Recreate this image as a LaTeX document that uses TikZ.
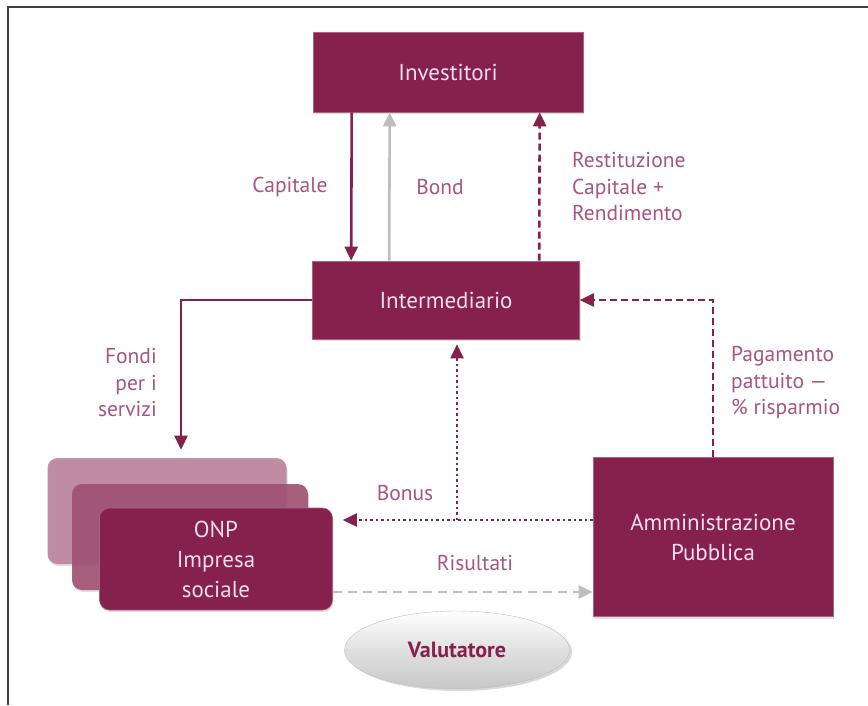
\documentclass[tikz,border=0pt]{standalone}
\usepackage{fontspec}
\setmainfont{PT Sans}
\usetikzlibrary{arrows.meta,shapes.geometric,shadows}
\definecolor{vino}{RGB}{134,32,76}
\definecolor{malva}{RGB}{166,84,128}
\definecolor{rosa}{RGB}{244,222,234}
\definecolor{grigio}{RGB}{190,190,190}
\begin{document}
\begin{tikzpicture}[x=1pt,y=-1pt,
	box/.style={draw=vino!70!white,line width=0.6pt,fill=vino,text=rosa,font=\fontsize{23}{30}\selectfont,align=center,inner sep=0pt,drop shadow={opacity=0.25,shadow xshift=1pt,shadow yshift=-2pt}},
	lab/.style={text=malva,font=\fontsize{21.5}{26.5}\selectfont,inner sep=0pt},
	freccia/.style={line width=2.6pt,vino,-{Triangle[length=14pt,width=13pt]}}]
		\useasboundingbox (0,0) rectangle (868,705);
		\draw[line width=1.4pt,black!75] (8,705)--(8,7)--(868,7);
		\node[box,minimum width=270,minimum height=80] (inv) at (448,72) {Investitori};
		\node[box,minimum width=267,minimum height=78] (int) at (446,300) {Intermediario};
		\node[box,minimum width=240,minimum height=159] (ap) at (713,537) {Amministrazione\\Pubblica};
		\foreach \n/\x/\y/\w/\c in {onpb/167/511/239/55,onpm/190/537/236/78}
			\node[box,draw=none,fill=vino!\c!white,rounded corners=10pt,minimum width=\w,minimum height=106,fill opacity=0.9] (\n) at (\x,\y) {};
		\node[box,rounded corners=10pt,minimum width=233,minimum height=102] (onpf) at (216,559) {ONP\\Impresa\\sociale};
		\node[ellipse,draw=black!25,top color=white,bottom color=black!22,middle color=black!12,minimum width=225,minimum height=78,font=\bfseries\fontsize{22}{24}\selectfont,text=vino,drop shadow={opacity=0.3,shadow yshift=-2pt}] (val) at (457,650) {Valutatore};
		\coordinate (bx) at ([xshift=11pt]int.south);
		\draw[freccia] ([xshift=39pt]inv.south west)--([xshift=39pt]int.north west);
		\draw[freccia,grigio] ([xshift=77pt]int.north west)--([xshift=77pt]inv.south west);
		\draw[freccia,dash pattern=on 7pt off 4pt] ([xshift=227pt]int.north west)--([xshift=227pt]inv.south west);
		\draw[freccia] (int.west)-|([xshift=14pt,yshift=8pt]onpb.north);
		\draw[freccia,dash pattern=on 7pt off 4pt] (ap.north)|-(int.east);
		\draw[freccia,dash pattern=on 2.5pt off 3pt] ([yshift=17pt]ap.west)--([yshift=17pt,xshift=10pt]ap.west-|onpf.east);
		\draw[freccia,dash pattern=on 2.5pt off 3pt] ([yshift=17pt]bx|-ap.west)--([yshift=-5pt]bx);
		\draw[freccia,grigio,dash pattern=on 9pt off 6pt] ([yshift=-33pt]onpf.east)--([yshift=-33pt]onpf.east-|ap.west);
		\node[lab] (cap) at (290,187) {Capitale};
		\node[lab] (bond) at (440,187) {Bond};
		\node[lab,anchor=west,align=left] (rest) at (572,187) {Restituzione\\Capitale +\\Rendimento};
		\node[lab,anchor=east,align=right] (fondi) at (157,383) {Fondi\\per i\\servizi};
		\node[lab,anchor=west,align=left] (pag) at (731,383) {Pagamento\\pattuito —\\\% risparmio};
		\node[lab] (bonus) at (405,493) {Bonus};
		\node[lab] (ris) at (475,563) {Risultati};
	\end{tikzpicture}
\end{document}
